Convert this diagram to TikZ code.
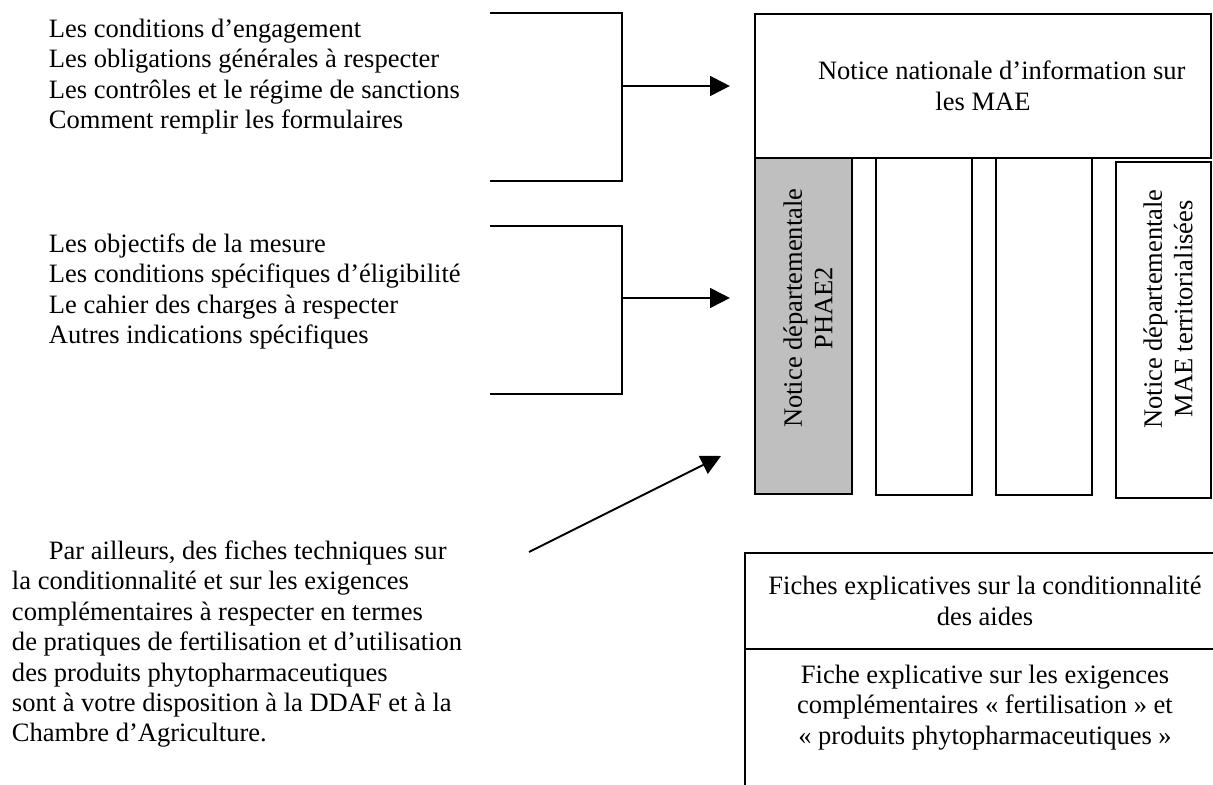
\documentclass[tikz,border=0pt]{standalone}
\usepackage{fontspec}
\setmainfont{Liberation Serif}
\usetikzlibrary{arrows.meta}

\tikzset{
  cadre/.style={draw, line width=.9pt, inner sep=0pt, anchor=north west},
  texte/.style={inner sep=0pt, font=\fontsize{12}{13.8}\selectfont},
}

\begin{document}
\begin{tikzpicture}[x=.4525pt, y=-.4525pt, line width=.9pt, >={Triangle[length=9pt,width=9pt]}]
\useasboundingbox (0,0) rectangle (1213,785);
\clip (0,0) rectangle (1213,785);

% notice nationale et notices departementales
\node[cadre, texte, align=center, minimum width=206.3pt, minimum height=65.2pt] (nat) at (754,13)
  {\hspace*{17pt}Notice nationale d’information sur\\les MAE};
\node[cadre, fill=black!25, minimum width=43.9pt, minimum height=152pt] (phae) at (754,157) {};
\node[cadre, minimum width=43.4pt, minimum height=152.5pt] (col2) at (875,157) {};
\node[cadre, minimum width=43.4pt, minimum height=152.5pt] (col3) at (995,157) {};
\node[cadre, minimum width=43pt, minimum height=152pt] (maet) at (1115,161) {};
\node[texte, rotate=90, align=center] (tphae) at ([shift={(2pt,8pt)}]phae.center)
  {Notice départementale\\PHAE2};
\node[texte, rotate=90, align=center] (tmaet) at ([shift={(2pt,9.5pt)}]maet.center)
  {Notice départementale\\MAE territorialisées};

% fiches explicatives
\node[cadre, texte, align=center, minimum width=217.2pt, minimum height=43.4pt] (fcond) at (744,552)
  {Fiches explicatives sur la conditionnalité\\des aides};
\node[cadre, minimum width=217.2pt, minimum height=70pt] (fexig) at (744,648) {};
\node[texte, align=center, anchor=north] (tfexig) at ([yshift=-7.2pt]fexig.north)
  {Fiche explicative sur les exigences\\complémentaires « fertilisation » et\\« produits phytopharmaceutiques »};

% contenus (base = derniere ligne)
\node[texte, anchor=base west, align=left] (liste1) at (48,129)
  {Les conditions d’engagement\\Les obligations générales à respecter\\
   Les contrôles et le régime de sanctions\\Comment remplir les formulaires};
\node[texte, anchor=base west, align=left] (liste2) at (48,344)
  {Les objectifs de la mesure\\Les conditions spécifiques d’éligibilité\\
   Le cahier des charges à respecter\\Autres indications spécifiques};
\node[texte, anchor=base west, align=left] (parag) at (11,742)
  {\hspace*{16.7pt}Par ailleurs, des fiches techniques sur\\
   la conditionnalité et sur les exigences\\
   complémentaires à respecter en termes\\
   de pratiques de fertilisation et d’utilisation\\
   des produits phytopharmaceutiques\\
   sont à votre disposition à la DDAF et à la\\
   Chambre d’Agriculture.};

% accolades et fleches
\draw (490,13) -| (622,181) -- (490,181);
\draw (490,226) -| (622,394) -- (490,394);
\coordinate (acc1) at (622,86);
\coordinate (acc2) at (622,298);
\draw[->] (acc1) -- ([xshift=-10.9pt]nat.west |- acc1);
\draw[->] (acc2) -- ([xshift=-10.9pt]phae.west |- acc2);
\coordinate (dep) at (529,552);
\coordinate (arr) at (721,456);
\draw[->] (dep) -- (arr);
\end{tikzpicture}
\end{document}
